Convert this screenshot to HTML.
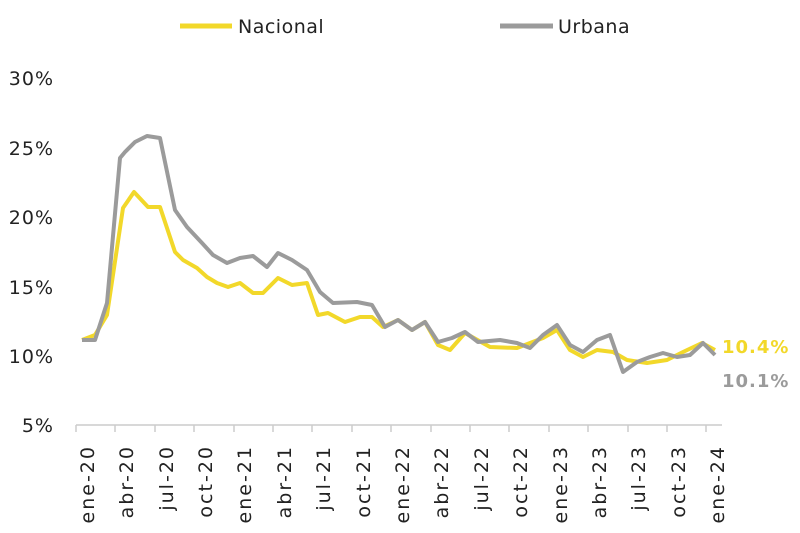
<!DOCTYPE html>
<html><head><meta charset="utf-8"><style>body{margin:0;background:#fff}svg{display:block}text{font-family:"DejaVu Sans",sans-serif}</style></head><body>
<svg width="800" height="533" viewBox="0 0 800 533">
<line x1="180" y1="26" x2="232" y2="26" stroke="#f2d82a" stroke-width="5"/>
<text x="238" y="33" font-size="19" letter-spacing="0.5" fill="#222">Nacional</text>
<line x1="500" y1="26" x2="553" y2="26" stroke="#9b9b9b" stroke-width="5"/>
<text x="558" y="33" font-size="19" letter-spacing="0.5" fill="#222">Urbana</text>
<g font-size="19" letter-spacing="1" fill="#222" text-anchor="end">
<text x="54" y="85">30%</text><text x="54" y="155">25%</text><text x="54" y="224">20%</text><text x="54" y="294">15%</text><text x="54" y="363">10%</text><text x="54" y="432">5%</text>
</g>
<line x1="76" y1="425" x2="722" y2="425" stroke="#ccc" stroke-width="1.5"/>
<g stroke="#ccc" stroke-width="1.5">
<line x1="76" y1="425" x2="76" y2="432"/><line x1="115" y1="425" x2="115" y2="432"/><line x1="155" y1="425" x2="155" y2="432"/><line x1="194" y1="425" x2="194" y2="432"/><line x1="234" y1="425" x2="234" y2="432"/><line x1="273" y1="425" x2="273" y2="432"/><line x1="312" y1="425" x2="312" y2="432"/><line x1="352" y1="425" x2="352" y2="432"/><line x1="391" y1="425" x2="391" y2="432"/><line x1="431" y1="425" x2="431" y2="432"/><line x1="470" y1="425" x2="470" y2="432"/><line x1="509" y1="425" x2="509" y2="432"/><line x1="549" y1="425" x2="549" y2="432"/><line x1="588" y1="425" x2="588" y2="432"/><line x1="628" y1="425" x2="628" y2="432"/><line x1="667" y1="425" x2="667" y2="432"/><line x1="706" y1="425" x2="706" y2="432"/>
</g>
<g font-size="19" letter-spacing="2" fill="#222" text-anchor="end">
<text transform="translate(94,445) rotate(-90)">ene-20</text>
<text transform="translate(133,445) rotate(-90)">abr-20</text>
<text transform="translate(173,445) rotate(-90)">jul-20</text>
<text transform="translate(212,445) rotate(-90)">oct-20</text>
<text transform="translate(251,445) rotate(-90)">ene-21</text>
<text transform="translate(291,445) rotate(-90)">abr-21</text>
<text transform="translate(330,445) rotate(-90)">jul-21</text>
<text transform="translate(370,445) rotate(-90)">oct-21</text>
<text transform="translate(409,445) rotate(-90)">ene-22</text>
<text transform="translate(448,445) rotate(-90)">abr-22</text>
<text transform="translate(488,445) rotate(-90)">jul-22</text>
<text transform="translate(527,445) rotate(-90)">oct-22</text>
<text transform="translate(567,445) rotate(-90)">ene-23</text>
<text transform="translate(606,445) rotate(-90)">abr-23</text>
<text transform="translate(645,445) rotate(-90)">jul-23</text>
<text transform="translate(685,445) rotate(-90)">oct-23</text>
<text transform="translate(724,445) rotate(-90)">ene-24</text>
</g>
<polyline fill="none" stroke="#f2d82a" stroke-width="4" stroke-linejoin="round" points="82,340 95,335 107,315 123,208 134,192 148,207 160,207 175,252 183,260 197,268 207,277 217,283 228,287 240,283 253,293 263,293 278,278 292,285 307,283 318,315 328,313 345,322 360,317 372,317 383,327 398,320 412,330 425,322 438,345 450,350 465,333 490,347 517,348 543,338 557,330 570,350 583,357 597,350 613,352 627,360 647,363 667,360 683,352 702,343 715,350"/>
<polyline fill="none" stroke="#9b9b9b" stroke-width="4" stroke-linejoin="round" points="82,340 95,340 107,303 120,158 125,152 135,142 147,136 160,138 175,210 187,227 202,243 213,255 227,263 240,258 253,256 267,267 278,253 292,260 307,270 320,292 333,303 357,302 372,305 385,327 398,320 412,330 425,322 438,342 452,338 465,332 478,342 500,340 517,343 530,348 543,335 557,325 570,345 583,352 597,340 610,335 623,372 637,362 650,357 663,353 677,357 690,355 703,343 715,355"/>
<text x="722" y="353" font-size="18" letter-spacing="1" font-weight="bold" fill="#f2d82a">10.4%</text>
<text x="722" y="387" font-size="18" letter-spacing="1" font-weight="bold" fill="#9b9b9b">10.1%</text>
</svg>
</body></html>
